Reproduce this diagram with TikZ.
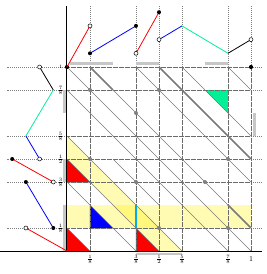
\documentclass[tikz,border=0pt]{standalone}
\usetikzlibrary{shadows}
\definecolor{mygreen}{RGB}{0,240,150}
\begin{document}
\begin{tikzpicture}[x=23pt,y=23pt,
  gridin/.style={black!58, line width=0.9pt, dash pattern=on 0.6pt off 0.6pt},
  gridout/.style={black!50, line width=0.55pt, dash pattern=on 0.6pt off 1.4pt},
  diag/.style={black!52, line width=0.65pt},
  diagthick/.style={black!52, line width=1.6pt},
  shadebar/.style={black!22, line width=2.6pt},
  gdot/.style={fill=black!50},
  opendot/.style={draw=black, fill=white, line width=0.5pt},
  filldot/.style={fill=black},
  seg/.style={line width=0.8pt},
  tshadow/.style={drop shadow={shadow xshift=1.2pt, shadow yshift=-1.2pt, opacity=0.45}},
  lab/.style={inner sep=0pt, font=\fontsize{6.5}{7}\selectfont}]
\useasboundingbox (-2.9130,-1) rectangle (8.6522,10.9130);
\def\hs{0.5957}
% yellow regions
\fill[yellow, opacity=0.3] (0,1) rectangle (8,2);
\fill[yellow, opacity=0.3] (0,4) -- (0,5) -- (5,0) -- (4,0) -- cycle;
% shadow bar under axis
\draw[shadebar] (3,-0.13) -- (5,-0.13);
% coloured triangles
\fill[red, tshadow] (0,0) -- (1,0) -- (0,1) -- cycle;
\fill[red, tshadow] (0,3) -- (1,3) -- (0,4) -- cycle;
\fill[red, tshadow] (3,0) -- (4,0) -- (3,1) -- cycle;
\fill[blue, tshadow] (1,1) -- (2,1) -- (1,2) -- cycle;
\fill[mygreen] (6,7) -- (7,7) -- (7,6) -- cycle;
% grid inside
\foreach \t in {1,3,4,5,7,8} {
  \draw[gridin] (\t,0) -- (\t,8);
  \draw[gridin] (0,\t) -- (8,\t);
  \draw[gridout] (\t,8) -- (\t,10.65);
  \draw[gridout] (0,\t) -- (-2.61,\t);
  \draw[gridout] (8,\t) -- (8.5,\t);
}
% diagonals
\draw[diag] (0,1) -- (1,0);
\draw[diag] (0,3) -- (3,0);
\draw[diag] (0,4) -- (4,0);
\draw[diag] (0,5) -- (5,0);
\draw[diag] (2,4) -- (4,2);
\draw[diag] (0,7) -- (7,0);
\draw[diag] (0,8) -- (8,0);
\draw[diag] (2,7) -- (7,2);
\draw[diagthick] (1,8) -- (2,7);
\draw[diagthick] (7,2) -- (8,1);
\draw[diag] (3,8) -- (8,3);
\draw[diagthick] (4,8) -- (8,4);
\draw[diag] (5,8) -- (8,5);
\draw[diag] (7,8) -- (8,7);
% cyan segment
\draw[cyan, line width=1.2pt] (3,1) -- (3,2);
% projection bars
\draw[shadebar] (0.15,8.16) -- (2,8.16);
\draw[shadebar] (3,8.16) -- (4,8.16);
\draw[shadebar] (6,8.16) -- (7,8.16);
\draw[shadebar] (-0.12,0) -- (-0.12,2);
\draw[shadebar] (-0.12,3) -- (-0.12,4);
\draw[shadebar] (-0.12,6) -- (-0.12,7);
\draw[shadebar] (8.14,5) -- (8.14,6);
% gray dots
\foreach \p in {(1,7),(4,7),(3,6),(1,4),(3,3),(7,4),(6,3),(4,1),(7,1)}
  \fill[gdot] \p circle (2pt);
% axes
\draw[black, line width=1pt] (0,0) -- (0,10.65);
\draw[black, line width=1pt] (-2.913,0) -- (8.5,0);
\fill[filldot] (0,8) circle (2.1pt);
\fill[filldot] (8,8) circle (2.1pt);
% top graph
\coordinate (t0) at (0,8);
\coordinate (t1) at (1,8+3*\hs);
\coordinate (t2) at (1,8+\hs);
\coordinate (t3) at (3,8+3*\hs);
\coordinate (t4) at (3,8+\hs);
\coordinate (t5) at (4,8+4*\hs);
\coordinate (t6) at (4,8+2*\hs);
\coordinate (t7) at (5,8+3*\hs);
\coordinate (t8) at (7,8+\hs);
\coordinate (t9) at (8,8+2*\hs);
\draw[seg, red] (t0) -- (t1);
\draw[seg, blue] (t2) -- (t3);
\draw[seg, red] (t4) -- (t5);
\draw[seg, blue] (t6) -- (t7);
\draw[seg, mygreen] (t7) -- (t8);
\draw[seg, black] (t8) -- (t9);
\draw[opendot] (t1) circle (2pt);
\fill[filldot] (t2) circle (2pt);
\fill[filldot] (t3) circle (2pt);
\draw[opendot] (t4) circle (2pt);
\fill[filldot] (t5) circle (2pt);
\draw[opendot] (t6) circle (2pt);
\draw[opendot] (t9) circle (2pt);
% left graph
\coordinate (l0) at (0,0);
\coordinate (l1) at (-3*\hs,1);
\coordinate (l2) at (-\hs,1);
\coordinate (l3) at (-3*\hs,3);
\coordinate (l4) at (-\hs,3);
\coordinate (l5) at (-4*\hs,4);
\coordinate (l6) at (-2*\hs,4);
\coordinate (l7) at (-3*\hs,5);
\coordinate (l8) at (-\hs,7);
\coordinate (l9) at (-2*\hs,8);
\draw[seg, red] (l0) -- (l1);
\draw[seg, blue] (l2) -- (l3);
\draw[seg, red] (l4) -- (l5);
\draw[seg, blue] (l6) -- (l7);
\draw[seg, mygreen] (l7) -- (l8);
\draw[seg, black] (l8) -- (l9);
\draw[opendot] (l1) circle (2pt);
\fill[filldot] (l2) circle (2pt);
\fill[filldot] (l3) circle (2pt);
\draw[opendot] (l4) circle (2pt);
\fill[filldot] (l5) circle (2pt);
\draw[opendot] (l6) circle (2pt);
\draw[opendot] (l9) circle (2pt);
% labels
\node[lab] (y1) at (-0.27,8) {\fontsize{5}{5}\selectfont 1};
\node[lab] (y78) at (-0.28,7) {$\frac{7}{8}$};
\node[lab] (y58) at (-0.28,5) {$\frac{5}{8}$};
\node[lab] (y12) at (-0.28,4) {$\frac{1}{2}$};
\node[lab] (y38) at (-0.28,3) {$\frac{3}{8}$};
\node[lab] (y18) at (-0.28,1) {$\frac{1}{8}$};
\node[lab] (x18) at (1,-0.36) {$\frac{1}{8}$};
\node[lab] (x38) at (3,-0.36) {$\frac{3}{8}$};
\node[lab] (x12) at (4,-0.36) {$\frac{1}{2}$};
\node[lab] (x58) at (5,-0.36) {$\frac{5}{8}$};
\node[lab] (x78) at (7,-0.36) {$\frac{7}{8}$};
\node[lab] (x1) at (8,-0.33) {\fontsize{7.5}{8}\selectfont 1};
\end{tikzpicture}
\end{document}
